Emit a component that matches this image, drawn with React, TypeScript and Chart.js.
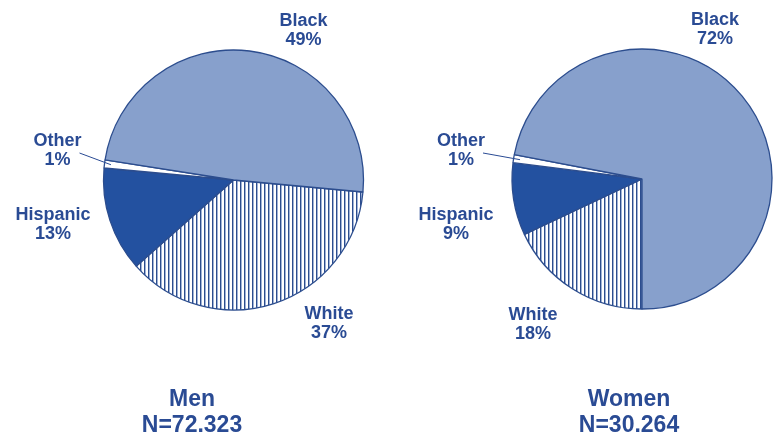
import React, { useEffect, useRef } from "react";
import { Chart, registerables } from "chart.js";

Chart.register(...registerables);

const categories = ["White", "Hispanic", "Other", "Black"];
const menValues = [37, 13, 1, 49];
const womenValues = [18, 9, 1, 72];
const groupTitles = ["Men", "Women"];
const groupN = ["N=72.323", "N=30.264"];

const TEXT = "#2a4b94";
const EDGE = "#2c4d8e";
const LIGHT = "#87a0cc";
const DARK = "#2351a0";
const FONT = '"Liberation Sans", Arial, sans-serif';

// label offsets (first line centre) relative to pie centre, per category
const menLabelOffsets = [
  [95.5, 134.5],
  [-180.5, 35],
  [-176, -39],
  [70, -158.5],
];
const womenLabelOffsets = [
  [-109, 136],
  [-186, 36],
  [-181, -38],
  [73, -159],
];

const labelPlugin = {
  id: "sliceLabels",
  afterDatasetsDraw(chart: any, _args: any, opts: any) {
    const ctx = chart.ctx;
    const meta = chart.getDatasetMeta(0);
    const first = meta.data[0];
    const cx = first.x;
    const cy = first.y;
    const r = first.outerRadius;
    const labels = chart.data.labels;
    const values = chart.data.datasets[0].data;
    ctx.save();
    ctx.fillStyle = TEXT;
    ctx.strokeStyle = TEXT;
    ctx.font = `bold 18px ${FONT}`;
    ctx.textAlign = "center";
    ctx.textBaseline = "middle";
    opts.offsets.forEach((o: number[], i: number) => {
      const x = cx + o[0];
      const y = cy + o[1];
      ctx.fillText(labels[i], x, y);
      ctx.fillText(`${values[i]}%`, x, y + 19);
    });
    const li = opts.leaderIndex;
    const arc = meta.data[li];
    const mid = (arc.startAngle + arc.endAngle) / 2;
    const ex = cx + Math.cos(mid) * r * 0.95;
    const ey = cy + Math.sin(mid) * r * 0.95;
    const sx = cx + opts.offsets[li][0] + 22;
    const sy = cy + opts.offsets[li][1] + 12;
    ctx.lineWidth = 1;
    ctx.beginPath();
    ctx.moveTo(sx, sy);
    ctx.lineTo(ex, ey);
    ctx.stroke();
    ctx.restore();
  },
};

function makeStripe(): CanvasPattern | string {
  const pc = document.createElement("canvas");
  pc.width = 4;
  pc.height = 4;
  const c = pc.getContext("2d");
  if (!c) return "#ffffff";
  c.fillStyle = "#ffffff";
  c.fillRect(0, 0, 4, 4);
  c.fillStyle = "#2c4d8e";
  c.fillRect(0, 0, 1, 4);
  c.fillStyle = "#9fb2d6";
  c.fillRect(1, 0, 1, 4);
  return c.createPattern(pc, "repeat") as CanvasPattern;
}

function PieCanvas(props: {
  values: number[];
  rotation: number;
  padding: { left: number; right: number; top: number; bottom: number };
  offsets: number[][];
}) {
  const ref = useRef<HTMLCanvasElement>(null);
  useEffect(() => {
    if (!ref.current) return;
    const stripe = makeStripe();
    const chart = new Chart(ref.current, {
      type: "pie",
      data: {
        labels: categories,
        datasets: [
          {
            data: props.values,
            backgroundColor: [stripe as any, DARK, "#ffffff", LIGHT],
            borderColor: EDGE,
            borderWidth: 1.3,
          },
        ],
      },
      options: {
        animation: false,
        responsive: false,
        rotation: props.rotation,
        radius: 130,
        layout: { padding: props.padding },
        plugins: {
          legend: { display: false },
          tooltip: { enabled: false },
          sliceLabels: { offsets: props.offsets, leaderIndex: 2 },
        } as any,
      },
      plugins: [labelPlugin],
    });
    return () => chart.destroy();
  }, []);
  return <canvas ref={ref} width={388} height={435} />;
}

const titleStyle = (cx: number): React.CSSProperties => ({
  position: "absolute",
  left: cx - 100,
  width: 200,
  top: 385,
  textAlign: "center",
  fontFamily: FONT,
  fontWeight: "bold",
  fontSize: 23,
  lineHeight: "26px",
  color: TEXT,
});

export default function App() {
  return (
    <div
      style={{
        position: "absolute",
        left: 0,
        top: 0,
        width: 776,
        height: 435,
        background: "#ffffff",
        overflow: "hidden",
      }}
    >
      <div style={{ position: "absolute", left: 0, top: 0 }}>
        <PieCanvas
          values={menValues}
          rotation={95.3}
          padding={{ left: 80, right: 1, top: 0, bottom: 75 }}
          offsets={menLabelOffsets}
        />
      </div>
      <div style={{ position: "absolute", left: 388, top: 0 }}>
        <PieCanvas
          values={womenValues}
          rotation={180}
          padding={{ left: 120, right: 0, top: 0, bottom: 77 }}
          offsets={womenLabelOffsets}
        />
      </div>
      <div style={titleStyle(192)}>
        {groupTitles[0]}
        <br />
        {groupN[0]}
      </div>
      <div style={titleStyle(629)}>
        {groupTitles[1]}
        <br />
        {groupN[1]}
      </div>
    </div>
  );
}
